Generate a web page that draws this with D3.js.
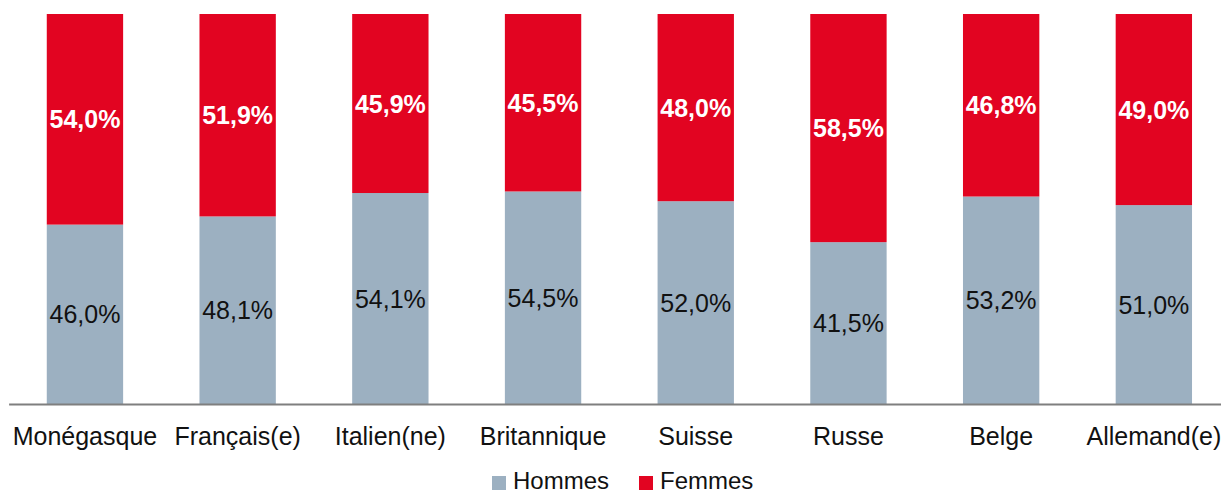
<!DOCTYPE html>
<meta charset="utf-8">
<style>
body { margin: 0; background: #fff; }
svg text { font-family: "Liberation Sans", Arial, sans-serif; }
.lbl { font-size: 25px; text-anchor: middle; }
.lbl.f { fill: #fff; font-weight: bold; }
.lbl.h { fill: #111; }
.axis text { font-size: 25px; fill: #111; }
.legend text { font-size: 24px; fill: #111; }
</style>
<body>
<script src="https://cdn.jsdelivr.net/npm/d3@7"></script>
<script>

var categories = ["Monégasque", "Français(e)", "Italien(ne)", "Britannique", "Suisse", "Russe", "Belge", "Allemand(e)"];
var hommes = [46.0, 48.1, 54.1, 54.5, 52.0, 41.5, 53.2, 51.0];
var femmes = [54.0, 51.9, 45.9, 45.5, 48.0, 58.5, 46.8, 49.0];
var seriesNames = ["Hommes", "Femmes"];

var width = 1221,
    height = 494;

var colors = { Hommes: "#9cb0c1", Femmes: "#e20421" };

var fr = d3.formatLocale({ decimal: ",", thousands: " ", grouping: [3], currency: ["", " €"] });
var pct = fr.format(".1f");

var svg = d3.select("body").append("svg")
    .attr("width", width)
    .attr("height", height);

var x = d3.scaleBand()
    .domain(categories)
    .range([8.6, 1230.2])
    .paddingInner(0.5)
    .paddingOuter(0.25);

var y = d3.scaleLinear()
    .domain([0, 100])
    .range([404, 14]);

var rows = categories.map(function(c, i) {
  return { cat: c, Hommes: hommes[i], Femmes: femmes[i] };
});

var stacked = d3.stack().keys(seriesNames)(rows);

var layer = svg.selectAll(".layer")
    .data(stacked)
  .enter().append("g")
    .attr("class", "layer")
    .attr("fill", function(d) { return colors[d.key]; });

layer.selectAll("rect")
    .data(function(d) { return d; })
  .enter().append("rect")
    .attr("x", function(d) { return x(d.data.cat); })
    .attr("width", x.bandwidth())
    .attr("y", function(d) { return y(d[1]); })
    .attr("height", function(d) { return y(d[0]) - y(d[1]); });

stacked.forEach(function(s) {
  svg.append("g").selectAll("text")
      .data(s)
    .enter().append("text")
      .attr("class", "lbl " + (s.key === "Femmes" ? "f" : "h"))
      .attr("x", function(d) { return x(d.data.cat) + x.bandwidth() / 2; })
      .attr("y", function(d) { return (y(d[0]) + y(d[1])) / 2; })
      .attr("dy", "0.36em")
      .text(function(d) { return pct(d.data[s.key]) + "%"; });
});

var axis = svg.append("g")
    .attr("class", "axis")
    .attr("transform", "translate(0," + y(0) + ")")
    .call(d3.axisBottom(x).tickSize(0).tickPadding(23));

axis.select(".domain")
    .attr("stroke", "#7f7f7f")
    .attr("stroke-width", 2);
axis.selectAll("text").attr("font-family", null).attr("font-size", null);

// legend
var legend = svg.append("g").attr("class", "legend");
var legendX = [492, 639];
seriesNames.forEach(function(name, i) {
  legend.append("rect")
      .attr("x", legendX[i])
      .attr("y", 476)
      .attr("width", 14)
      .attr("height", 14)
      .attr("fill", colors[name]);
  legend.append("text")
      .attr("x", legendX[i] + 21)
      .attr("y", 489)
      .text(name);
});

</script>
